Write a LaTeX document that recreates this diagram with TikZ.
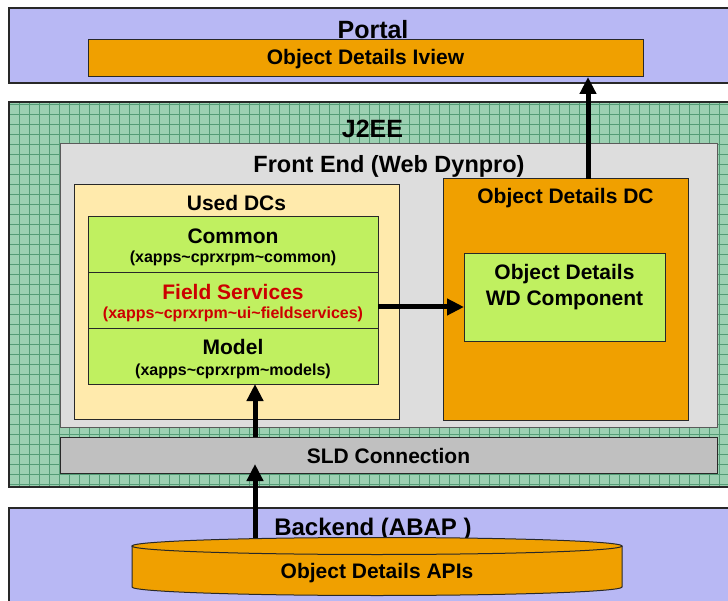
\documentclass[tikz,border=0pt]{standalone}
\usepackage{fontspec}
\setmainfont{Liberation Sans}
\usetikzlibrary{arrows.meta}
\definecolor{lav}{RGB}{184,184,244}
\definecolor{jgreen}{RGB}{156,208,178}
\definecolor{jgrid}{RGB}{84,156,118}
\definecolor{fegray}{RGB}{221,221,221}
\definecolor{dcyellow}{RGB}{255,234,172}
\definecolor{lgreen}{RGB}{192,240,96}
\definecolor{dorange}{RGB}{240,160,0}
\definecolor{sldgray}{RGB}{192,192,192}
\definecolor{dred}{RGB}{204,0,0}
\definecolor{edge}{RGB}{40,40,40}
\definecolor{feedge}{RGB}{90,90,90}
\newcommand{\tld}{\textasciitilde}
\begin{document}
\begin{tikzpicture}[x=1pt,y=-1pt,
  box/.style={draw=edge, line width=1pt, inner sep=0pt, outer sep=0pt, anchor=north west},
  outerbox/.style={box, line width=2pt},
  title/.style={font=\fontsize{25}{28}\selectfont\bfseries, anchor=base, inner sep=0pt},
  lbl/.style={font=\fontsize{21}{24}\selectfont\bfseries, anchor=base, inner sep=0pt},
  sub/.style={font=\fontsize{16}{18}\selectfont\bfseries, anchor=base, inner sep=0pt},
  arr/.style={line width=5pt, -{Triangle[length=17pt,width=16pt]}},
  gridline/.style={draw=jgrid, line width=0.7pt}
]
\useasboundingbox (0,0) rectangle (728,601);
\fill[white] (0,0) rectangle (728,601);

% Portal
\node[outerbox, fill=lav, minimum width=730pt, minimum height=75pt] (portal) at (9,8) {};
\node[title] (portaltxt) at (373,39) {Portal};
\node[box, fill=dorange, minimum width=555pt, minimum height=37pt] (iview) at (88,40) {};
\node[lbl] (iviewtxt) at (365.5,65) {Object Details Iview};

% J2EE
\node[outerbox, fill=jgreen, minimum width=730pt, minimum height=385pt] (j2ee) at (9,102) {};
\begin{scope}
\clip (10,103) rectangle (728,486);
\foreach \gx in {9,19,...,739} \draw[gridline] (\gx,100) -- (\gx,490);
\foreach \gy in {104,114,...,494} \draw[gridline] (0,\gy) -- (740,\gy);
\end{scope}
\draw[edge, line width=2pt] (j2ee.north west) rectangle (j2ee.south east);
\node[title] (j2eetxt) at (372.5,138) {J2EE};

% Front End
\node[box, draw=feedge, fill=fegray, minimum width=657pt, minimum height=283pt] (fe) at (60,144) {};
\node[title, font=\fontsize{23.5}{26}\selectfont\bfseries] (fetxt) at (389,173) {Front End (Web Dynpro)};

% Used DCs
\node[box, fill=dcyellow, minimum width=325pt, minimum height=234pt] (used) at (74,185) {};
\node[lbl] (usedtxt) at (236.5,211) {Used DCs};
\node[box, fill=lgreen, minimum width=290pt, minimum height=56pt] (common) at (88,217) {};
\node[box, fill=lgreen, minimum width=290pt, minimum height=56pt] (field) at (88,273) {};
\node[box, fill=lgreen, minimum width=290pt, minimum height=55pt] (model) at (88,329) {};
\node[lbl] (commontxt) at (233,244) {Common};
\node[sub] (commonsub) at (233,263) {(xapps\tld cprxrpm\tld common)};
\node[lbl, text=dred] (fieldtxt) at (233,300) {Field Services};
\node[sub, text=dred] (fieldsub) at (233,319) {(xapps\tld cprxrpm\tld ui\tld fieldservices)};
\node[lbl] (modeltxt) at (233,355) {Model};
\node[sub] (modelsub) at (233,375) {(xapps\tld cprxrpm\tld models)};

% Object Details DC
\node[box, fill=dorange, minimum width=245pt, minimum height=241pt] (dc) at (443,179) {};
\node[lbl] (dctxt) at (565.5,204) {Object Details DC};
\node[box, fill=lgreen, minimum width=201pt, minimum height=88pt] (wd) at (464,254) {};
\node[lbl] (wdtxt1) at (564.5,280) {Object Details};
\node[lbl] (wdtxt2) at (564.5,306) {WD Component};

% SLD
\node[box, fill=sldgray, minimum width=657pt, minimum height=36pt] (sld) at (60,437) {};
\node[lbl] (sldtxt) at (388.5,463) {SLD Connection};

% Backend
\node[outerbox, fill=lav, minimum width=730pt, minimum height=100pt] (backend) at (9,508) {};
\node[title, font=\fontsize{24}{27}\selectfont\bfseries] (backtxt) at (373,535) {Backend (ABAP )};

% Cylinder
\fill[dorange] (132,546) -- (132,587) arc[start angle=180, end angle=0, x radius=245, y radius=8.5] -- (622,546) -- cycle;
\draw[edge, line width=1pt] (132,546) -- (132,587) arc[start angle=180, end angle=0, x radius=245, y radius=8.5] -- (622,546);
\draw[edge, line width=1pt, fill=dorange] (377,546) ellipse [x radius=245, y radius=8.5];
\node[lbl] (apis) at (377,578) {Object Details APIs};
\coordinate (cyltop) at (255,538);

% Arrows
\coordinate (ax1) at (588,0);
\coordinate (ax2) at (255,0);
\coordinate (ay) at (0,307);
\path (sld.south -| ax2) ++(0,-9) coordinate (sldin);
\draw[arr] (dc.north -| ax1) -- (iview.south -| ax1);
\draw[arr] (field.east |- ay) -- (wd.west |- ay);
\draw[arr] (sld.north -| ax2) -- (model.south -| ax2);
\draw[arr] (cyltop) -- (sldin);
\end{tikzpicture}
\end{document}
